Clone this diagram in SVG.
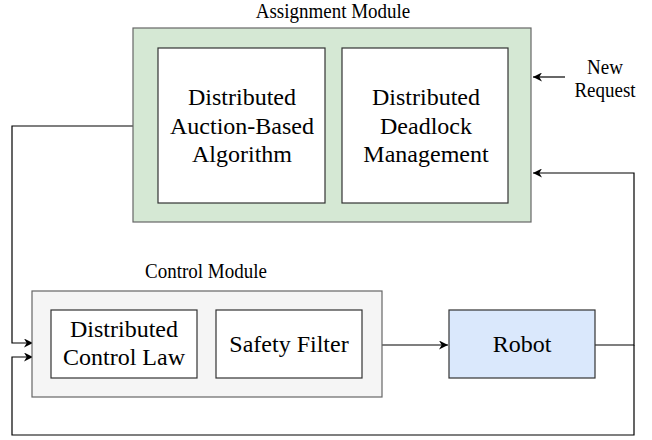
<svg xmlns="http://www.w3.org/2000/svg" width="652" height="440" viewBox="0 0 652 440">
<defs>
<marker id="arr" viewBox="0 0 10 10" refX="10" refY="5" markerWidth="9" markerHeight="9" markerUnits="userSpaceOnUse" orient="auto">
<path d="M0,0 L10,5 L0,10 L3,5 Z" fill="#000"/>
</marker>
<style>
text{font-family:'Liberation Serif','Times New Roman',serif;fill:#000;text-anchor:middle}
.big{font-size:24px}
.small{font-size:19px}
.line{fill:none;stroke:#000;stroke-width:1.2}
.inner{fill:#fff;stroke:#333;stroke-width:1.2}
</style>
</defs>
<rect width="652" height="440" fill="#fff"/>
<g id="connectors">
<path class="line" d="M133,126 H12 V343 H33" marker-end="url(#arr)"/>
<path class="line" d="M634,345 V435 H12 V357 H33" marker-end="url(#arr)"/>
<path class="line" d="M595,345 H634 V173 H533" marker-end="url(#arr)"/>
<path class="line" d="M565,77 H533" marker-end="url(#arr)"/>
<path class="line" d="M382,345 H448" marker-end="url(#arr)"/>
</g>
<g id="assignment-module">
<rect x="133" y="28" width="398" height="194" fill="#d5e8d4" stroke="#666" stroke-width="1.2"/>
<text class="small" transform="translate(333,18) scale(1,1.15)">Assignment Module</text>
</g>
<g id="auction">
<rect class="inner" x="158" y="48" width="167" height="155"/>
<text class="big" x="242" y="105">Distributed</text>
<text class="big" x="242" y="134">Auction-Based</text>
<text class="big" x="242" y="162">Algorithm</text>
</g>
<g id="deadlock">
<rect class="inner" x="342" y="48" width="166" height="155"/>
<text class="big" x="426" y="105">Distributed</text>
<text class="big" x="426" y="134">Deadlock</text>
<text class="big" x="426" y="162">Management</text>
</g>
<g id="new-request">
<text class="small" transform="translate(605,74) scale(1,1.15)">New</text>
<text class="small" transform="translate(605,97) scale(1,1.15)">Request</text>
</g>
<g id="control-module">
<rect x="32" y="291" width="350" height="106" fill="#f5f5f5" stroke="#666" stroke-width="1.2"/>
<text class="small" transform="translate(206,278) scale(1,1.15)">Control Module</text>
</g>
<g id="control-law">
<rect class="inner" x="51" y="310" width="146" height="68"/>
<text class="big" x="124" y="337">Distributed</text>
<text class="big" x="124" y="365">Control Law</text>
</g>
<g id="safety-filter">
<rect class="inner" x="216" y="310" width="146" height="68"/>
<text class="big" x="289" y="352">Safety Filter</text>
</g>
<g id="robot">
<rect x="449" y="310" width="146" height="68" fill="#dae8fc" stroke="#333" stroke-width="1.2"/>
<text class="big" x="522" y="352">Robot</text>
</g>
</svg>
